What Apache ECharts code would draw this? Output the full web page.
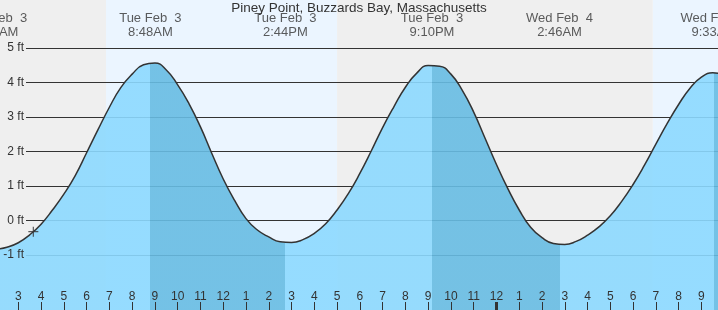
<!DOCTYPE html>
<html><head><meta charset="utf-8">
<script src="https://cdn.jsdelivr.net/npm/echarts@6/dist/echarts.min.js"></script>
<style>html,body{margin:0;padding:0;background:#fff}#c{width:718px;height:310px}</style>
</head><body><div id="c"></div>
<script>
// Tide curve readings, every half hour (hours since Tue Feb 3 00:00, feet)
const tideHours = [2,2.5,3,3.5,4,4.5,5,5.5,6,6.5,7,7.5,8,8.5,9,9.5,10,10.5,11,11.5,12,12.5,13,13.5,14,14.5,15,15.5,16,16.5,17,17.5,18,18.5,19,19.5,20,20.5,21,21.5,22,22.5,23,23.5,24,24.5,25,25.5,26,26.5,27,27.5,28,28.5,29,29.5,30,30.5,31,31.5,32,32.5,33,33.5,34];
const tideFeet  = [-0.84,-0.78,-0.65,-0.42,-0.11,0.30,0.76,1.30,1.96,2.63,3.28,3.85,4.24,4.51,4.56,4.36,3.93,3.38,2.71,1.94,1.20,0.58,0.05,-0.28,-0.48,-0.62,-0.64,-0.56,-0.38,-0.10,0.30,0.78,1.36,2.01,2.69,3.30,3.86,4.27,4.49,4.47,4.24,3.77,3.14,2.38,1.62,0.92,0.30,-0.20,-0.50,-0.67,-0.70,-0.61,-0.43,-0.19,0.13,0.55,1.04,1.60,2.21,2.81,3.36,3.83,4.15,4.28,4.22];
// High / low events
const eventHours = [2.02, 8.80, 14.73, 21.17, 26.77, 33.55];
const eventDays  = ['Tue Feb  3', 'Tue Feb  3', 'Tue Feb  3', 'Tue Feb  3', 'Wed Feb  4', 'Wed Feb  4'];
const eventTimes = ['2:01AM', '8:48AM', '2:44PM', '9:10PM', '2:46AM', '9:33AM'];
const eventKinds = ['low', 'high', 'low', 'high', 'low', 'high'];
// Sun
const sunriseHours = [6.85, 30.87];
const sunsetHours  = [17.0];
// Ticks
const hourTicks = [3,4,5,6,7,8,9,10,11,12,13,14,15,16,17,18,19,20,21,22,23,24,25,26,27,28,29,30,31,32,33];
const midnightTicks = [24];
const footTicks = [-1, 0, 1, 2, 3, 4, 5];
// Current time marker
const nowHour = 3.66;
const nowFeet = -0.33;
const titleText = 'Piney Point, Buzzards Bay, Massachusetts';

const xMin = 2.196, xMax = 33.73, yMin = -2.6, yMax = 6.39;
const FONT = 'Liberation Sans, Arial, sans-serif';
const NIGHT = '#EFEFEF', DAY = '#EBF5FF';
const RISE = '#8CD9FF', FALL = '#67BCE3';

const bandEdges = [xMin, sunriseHours[0], sunsetHours[0], sunriseHours[1], xMax];
const bands = [];
for (let i = 0; i < bandEdges.length - 1; i++) {
  bands.push([{ xAxis: bandEdges[i], itemStyle: { color: i % 2 === 0 ? NIGHT : DAY } }, { xAxis: bandEdges[i + 1] }]);
}

const pieces = [{ lt: eventHours[0], color: FALL }];
for (let i = 0; i < eventHours.length; i++) {
  const p = { gte: eventHours[i], color: eventKinds[i] === 'high' ? FALL : RISE };
  if (i < eventHours.length - 1) p.lt = eventHours[i + 1];
  pieces.push(p);
}

const tideData = tideHours.map((h, i) => [h, tideFeet[i]]);
const labelRowFeet = 5.64;

const chart = echarts.init(document.getElementById('c'), null, { renderer: 'canvas' });
chart.setOption({
  animation: false,
  textStyle: { fontFamily: FONT },
  title: { text: titleText, left: 'center', top: 0, padding: [1, 5],
    textStyle: { fontSize: 13.5, fontWeight: 'normal', color: '#333', fontFamily: FONT } },
  grid: [
    { left: 0, right: 0, top: 0, bottom: 0 },
    { left: 26, right: 0, top: 0, bottom: 0 }
  ],
  xAxis: [
    { type: 'value', gridIndex: 0, min: xMin, max: xMax, z: 10, position: 'bottom',
      axisLine: { show: false, onZero: false }, splitLine: { show: false },
      axisTick: { show: true, inside: true, length: 8, customValues: hourTicks, lineStyle: { color: '#333', width: 1 } },
      axisLabel: { show: true, inside: true, margin: 7, customValues: hourTicks, color: '#333', fontSize: 12, fontFamily: FONT,
        formatter: v => String(v % 12 === 0 ? 12 : v % 12) } },
    { type: 'value', gridIndex: 0, min: xMin, max: xMax, z: 10, position: 'bottom',
      axisLine: { show: false, onZero: false }, splitLine: { show: false }, axisLabel: { show: false },
      axisTick: { show: true, inside: true, length: 8, customValues: midnightTicks, lineStyle: { color: '#333', width: 3 } } },
    { type: 'value', gridIndex: 1, min: xMin, max: xMax, show: false }
  ],
  yAxis: [
    { type: 'value', gridIndex: 0, min: yMin, max: yMax, z: 10,
      axisLine: { show: false, onZero: false }, splitLine: { show: false },
      axisTick: { show: false, customValues: footTicks },
      axisLabel: { show: true, inside: true, align: 'right', margin: 24, customValues: footTicks, color: '#333', fontSize: 12, fontFamily: FONT,
        formatter: v => v + ' ft' } },
    { type: 'value', gridIndex: 1, min: yMin, max: yMax, z: 2,
      axisLine: { show: false, onZero: false }, axisLabel: { show: false },
      axisTick: { show: false, customValues: footTicks },
      splitLine: { show: true, lineStyle: { color: '#333', width: 1 } } }
  ],
  visualMap: { show: false, type: 'piecewise', seriesIndex: 1, dimension: 0, pieces: pieces },
  series: [
    { type: 'line', xAxisIndex: 0, yAxisIndex: 0, z: 1, data: [], silent: true,
      markArea: { silent: true, data: bands } },
    { type: 'line', xAxisIndex: 0, yAxisIndex: 0, z: 3, data: tideData, smooth: 0.5,
      symbol: 'none', clip: true, silent: true,
      lineStyle: { color: '#333', width: 1.5 },
      areaStyle: { opacity: 0.9, origin: 'start' } },
    { type: 'scatter', xAxisIndex: 0, yAxisIndex: 0, z: 10, clip: false, silent: true,
      data: [[nowHour, nowFeet]], symbol: 'path://M4.4,0H5.6V4.4H10V5.6H5.6V10H4.4V5.6H0V4.4H4.4Z', symbolSize: 10,
      itemStyle: { color: '#333' } },
    { type: 'scatter', xAxisIndex: 0, yAxisIndex: 0, z: 10, clip: false, silent: true,
      data: eventHours.map(h => [h, labelRowFeet]), symbolSize: 1, itemStyle: { color: 'rgba(0,0,0,0)' },
      label: { show: true, position: 'inside', color: '#333', fontSize: 13, lineHeight: 14, fontFamily: FONT, align: 'center',
        formatter: p => eventDays[p.dataIndex] + '\n' + eventTimes[p.dataIndex] } }
  ]
});
</script></body></html>
